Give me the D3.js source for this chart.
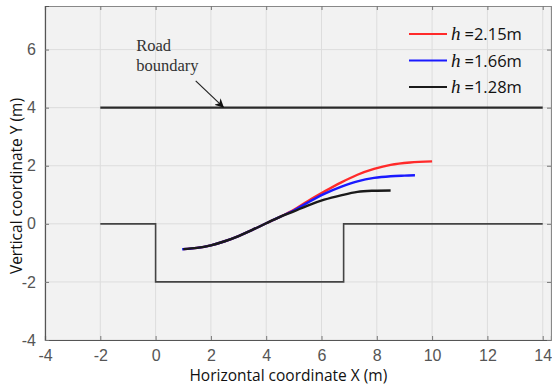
<!DOCTYPE html>
<html>
<head>
<meta charset="utf-8">
<script src="https://cdn.jsdelivr.net/npm/d3@7"></script>
<style>
  body { margin: 0; background: #fff; }
  svg { display: block; }
</style>
</head>
<body>
<svg></svg>
<script>
// shared start of the three trajectories
var startX = [1.0, 1.5, 2.0, 2.5, 3.0, 3.5, 4.0, 4.5];
var startY = [-0.87, -0.83, -0.74, -0.6, -0.42, -0.21, 0.02, 0.24];

var redX = [5.0, 5.5, 6.1, 6.7, 7.3, 7.9, 8.5, 9.2, 10.0];
var redY = [0.48, 0.78, 1.11, 1.42, 1.69, 1.89, 2.03, 2.11, 2.15];
var blueX = [5.0, 5.5, 6.1, 6.7, 7.3, 7.9, 8.5, 9.0, 9.38];
var blueY = [0.46, 0.73, 1.03, 1.27, 1.46, 1.58, 1.64, 1.66, 1.67];
var blackX = [5.0, 5.5, 6.1, 6.7, 7.3, 7.9, 8.5];
var blackY = [0.43, 0.63, 0.83, 0.98, 1.1, 1.14, 1.15];

var legendLabels = ["=2.15m", "=1.66m", "=1.28m"];
var seriesColors = ["#ff2a2a", "#1a1aff", "#1a1a1a"];

// road geometry
var boundaryX = [-2, 14];
var boundaryY = [4, 4];
var laneX = [-2, 0, 0, 6.8, 6.8, 14];
var laneY = [0, 0, -2, -2, 0, 0];

var xTicks = [-4, -2, 0, 2, 4, 6, 8, 10, 12, 14];
var yTicks = [-4, -2, 0, 2, 4, 6];

var screen = { width: 552, height: 388 };
var margins = { top: 6, bottom: 48, left: 45, right: 1 };
var width = screen.width - margins.left - margins.right;
var height = screen.height - margins.top - margins.bottom;

var svg = d3.select("svg")
            .attr("width", screen.width)
            .attr("height", screen.height);

var xScale = d3.scaleLinear().domain([-4, 14.3]).range([0, width]);
var yScale = d3.scaleLinear().domain([-4, 7.5]).range([height, 0]);

var plot = svg.append("g")
              .attr("transform", "translate(" + margins.left + "," + margins.top + ")");

plot.append("rect")
    .attr("width", width)
    .attr("height", height)
    .attr("fill", "#f2f2f2");

// grid
plot.append("g").selectAll("line")
    .data(xTicks)
    .enter()
    .append("line")
    .attr("x1", function(d) { return xScale(d); })
    .attr("x2", function(d) { return xScale(d); })
    .attr("y1", 0)
    .attr("y2", height)
    .attr("stroke", "#dddddd")
    .attr("stroke-width", 1);

plot.append("g").selectAll("line")
    .data(yTicks)
    .enter()
    .append("line")
    .attr("y1", function(d) { return yScale(d); })
    .attr("y2", function(d) { return yScale(d); })
    .attr("x1", 0)
    .attr("x2", width)
    .attr("stroke", "#dddddd")
    .attr("stroke-width", 1);

// axes with inward ticks, plain hyphen for minus
var fmt = function(d) { return String(d); };
var xAxis = plot.append("g")
    .attr("transform", "translate(0," + height + ")")
    .call(d3.axisBottom(xScale).tickValues(xTicks).tickFormat(fmt).tickSize(-4).tickPadding(10));
var xTop = plot.append("g")
    .call(d3.axisTop(xScale).tickValues(xTicks).tickSize(-4).tickFormat(""));
var yAxis = plot.append("g")
    .call(d3.axisLeft(yScale).tickValues(yTicks).tickFormat(fmt).tickSize(-4).tickPadding(9));
var yRight = plot.append("g")
    .attr("transform", "translate(" + width + ",0)")
    .call(d3.axisRight(yScale).tickValues(yTicks).tickSize(-4).tickFormat(""));

[xAxis, xTop, yAxis, yRight].forEach(function(a) {
  a.select(".domain").attr("stroke", "#555").attr("stroke-width", 1.2);
  a.selectAll(".tick line").attr("stroke", "#777");
  a.selectAll("text")
   .attr("fill", "#555")
   .style("font-family", "'Liberation Sans', Arial, sans-serif")
   .style("font-size", "16px");
});
xTop.select(".domain").attr("stroke", "#888");
yRight.select(".domain").attr("stroke", "#888");

var line = d3.line()
             .x(function(d) { return xScale(d[0]); })
             .y(function(d) { return yScale(d[1]); });

// road
plot.append("path")
    .datum(d3.zip(boundaryX, boundaryY))
    .attr("d", line)
    .attr("fill", "none")
    .attr("stroke", "#2a2a2a")
    .attr("stroke-width", 2.2);

plot.append("path")
    .datum(d3.zip(laneX, laneY))
    .attr("d", line)
    .attr("fill", "none")
    .attr("stroke", "#444")
    .attr("stroke-width", 1.6);

// trajectories
var smooth = d3.line()
               .curve(d3.curveCatmullRom)
               .x(function(d) { return xScale(d[0]); })
               .y(function(d) { return yScale(d[1]); });

var series = [
  d3.zip(startX.concat(redX), startY.concat(redY)),
  d3.zip([0.96].concat(startX.slice(1), blueX), [-0.875].concat(startY.slice(1), blueY)),
  d3.zip(startX.concat(blackX), startY.concat(blackY))
];

plot.selectAll(".traj")
    .data(series)
    .enter()
    .append("path")
    .classed("traj", true)
    .attr("d", smooth)
    .attr("fill", "none")
    .attr("stroke", function(d, i) { return seriesColors[i]; })
    .attr("stroke-width", 2.4);

// annotation
var defs = svg.append("defs");
defs.append("marker")
    .attr("id", "arr")
    .attr("viewBox", "0 0 10 10")
    .attr("refX", 9)
    .attr("refY", 5)
    .attr("markerWidth", 9)
    .attr("markerHeight", 9)
    .attr("orient", "auto")
    .attr("markerUnits", "userSpaceOnUse")
    .append("path")
    .attr("d", "M0,0 L10,5 L0,10 L3,5 Z")
    .attr("fill", "#111");

plot.append("line")
    .attr("x1", xScale(1.45))
    .attr("y1", yScale(4.92))
    .attr("x2", xScale(2.45))
    .attr("y2", yScale(4.02))
    .attr("stroke", "#222")
    .attr("stroke-width", 1.2)
    .attr("marker-end", "url(#arr)");

var note = plot.append("text")
    .attr("x", xScale(-0.7))
    .attr("y", yScale(5.95))
    .attr("fill", "#333")
    .style("font-family", "'Liberation Serif', 'Times New Roman', serif")
    .style("font-size", "16.5px");
note.append("tspan").attr("x", xScale(-0.7)).text("Road");
note.append("tspan").attr("x", xScale(-0.7)).attr("dy", 20).text("boundary");

// legend
var legend = svg.append("g").attr("transform", "translate(409,34)");
var rows = legend.selectAll("g")
    .data(legendLabels)
    .enter()
    .append("g")
    .attr("transform", function(d, i) { return "translate(0," + (i * 26.5) + ")"; });
rows.append("line")
    .attr("x1", 0).attr("x2", 38)
    .attr("stroke", function(d, i) { return seriesColors[i]; })
    .attr("stroke-width", 2.2);
var lt = rows.append("text")
    .attr("x", 42)
    .attr("y", 6)
    .attr("fill", "#111")
    .style("font-size", "16.5px");
lt.append("tspan")
  .style("font-family", "'Liberation Serif', serif")
  .style("font-style", "italic")
  .style("font-size", "19px")
  .text("h");
lt.append("tspan")
  .attr("dx", 4)
  .style("font-family", "'Open Sans', sans-serif")
  .text(function(d) { return d; });

// axis titles
svg.append("text")
   .attr("x", margins.left + xScale(4.8))
   .attr("y", 381)
   .attr("text-anchor", "middle")
   .attr("fill", "#111")
   .style("font-family", "'Open Sans', sans-serif")
   .style("font-size", "15.5px")
   .text("Horizontal coordinate X (m)");

svg.append("text")
   .attr("transform", "translate(22," + (margins.top + yScale(1.3)) + ") rotate(-90)")
   .attr("text-anchor", "middle")
   .attr("fill", "#111")
   .style("font-family", "'Open Sans', sans-serif")
   .style("font-size", "15.5px")
   .text("Vertical coordinate Y (m)");
</script>
</body>
</html>
